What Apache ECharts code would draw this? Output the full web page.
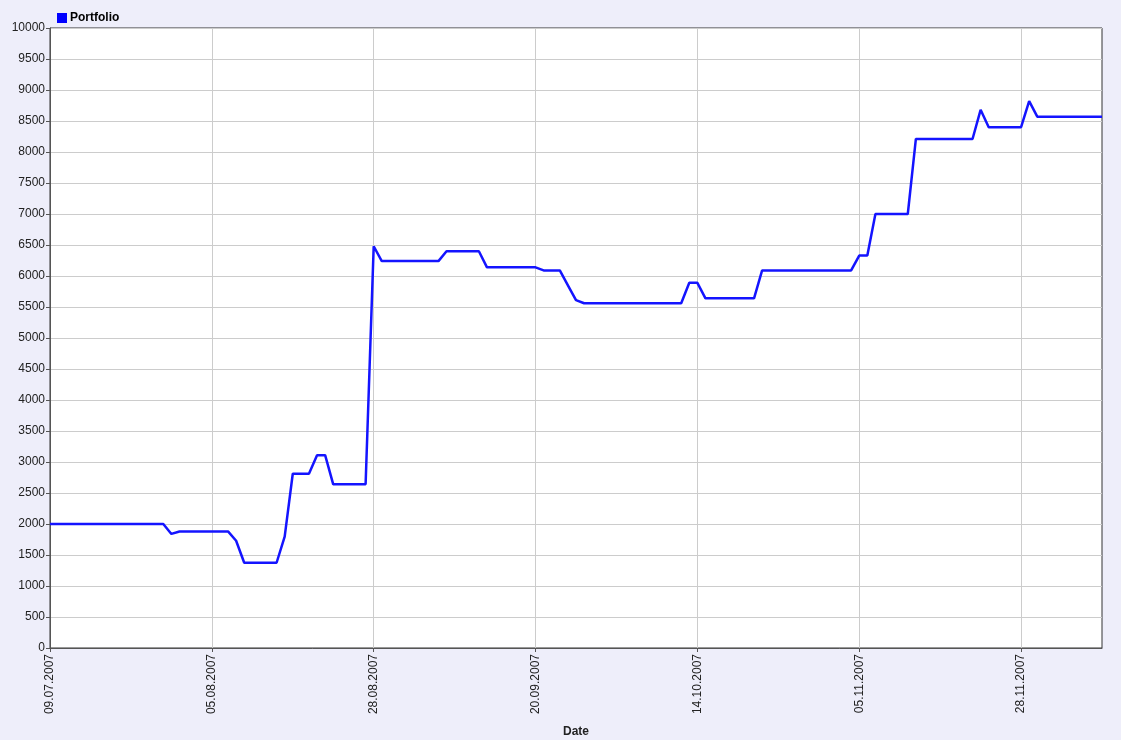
<!DOCTYPE html>
<html>
<head>
<meta charset="utf-8">
<script src="https://cdn.jsdelivr.net/npm/echarts@6/dist/echarts.min.js"></script>
<style>
  html, body { margin: 0; padding: 0; background: #eeeefa; }
  #chart { width: 1121px; height: 740px; }
</style>
</head>
<body>
<div id="chart"></div>
<script>
// tick labels, one every 20 points
var tickLabels = ['09.07.2007', '05.08.2007', '28.08.2007', '20.09.2007', '14.10.2007', '05.11.2007', '28.11.2007'];
var tickStep = 20;

// portfolio value per point (131 points)
var portfolio = [
  2000, 2000, 2000, 2000, 2000, 2000, 2000, 2000, 2000, 2000,
  2000, 2000, 2000, 2000, 2000, 1840, 1880, 1880, 1880, 1880,
  1880, 1880, 1880, 1730, 1375, 1375, 1375, 1375, 1375, 1795,
  2810, 2810, 2810, 3110, 3110, 2640, 2640, 2640, 2640, 2640,
  6480, 6240, 6240, 6240, 6240, 6240, 6240, 6240, 6240, 6400,
  6400, 6400, 6400, 6400, 6140, 6140, 6140, 6140, 6140, 6140,
  6140, 6090, 6090, 6090, 5850, 5610, 5560, 5560, 5560, 5560,
  5560, 5560, 5560, 5560, 5560, 5560, 5560, 5560, 5560, 5890,
  5890, 5640, 5640, 5640, 5640, 5640, 5640, 5640, 6090, 6090,
  6090, 6090, 6090, 6090, 6090, 6090, 6090, 6090, 6090, 6090,
  6330, 6330, 7000, 7000, 7000, 7000, 7000, 8210, 8210, 8210,
  8210, 8210, 8210, 8210, 8210, 8680, 8400, 8400, 8400, 8400,
  8400, 8820, 8570, 8570, 8570, 8570, 8570, 8570, 8570, 8570,
  8570
];

// 类目：只有每20个点有日期标签
var categories = [];
for (var i = 0; i < portfolio.length; i++) {
  categories.push(i % tickStep === 0 ? (tickLabels[i / tickStep] || '') : '');
}

function onTick(idx) { return idx % tickStep === 0; }

var chart = echarts.init(document.getElementById('chart'));
var option = {
  backgroundColor: '#eeeefa',
  animation: false,
  textStyle: { fontFamily: 'Liberation Sans, Arial, sans-serif' },
  legend: {
    left: 52,
    top: 7,
    icon: 'rect',
    itemWidth: 10,
    itemHeight: 10,
    itemGap: 4,
    textStyle: { fontSize: 12, fontWeight: 'bold', color: '#000', padding: [0, 0, 0, -2] },
    data: ['Portfolio']
  },
  grid: {
    left: 50,
    right: 19,
    top: 28,
    bottom: 92,
    outerBoundsMode: 'none',
    containLabel: false,
    show: true,
    backgroundColor: '#ffffff',
    borderColor: '#333',
    borderWidth: 1
  },
  xAxis: {
    type: 'category',
    boundaryGap: false,
    data: categories,
    name: 'Date',
    nameLocation: 'middle',
    nameGap: 78,
    nameTextStyle: { fontSize: 12, fontWeight: 'bold', color: '#222' },
    axisLine: { lineStyle: { color: '#555', width: 1 } },
    axisTick: { interval: onTick, length: 4, lineStyle: { color: '#555' } },
    axisLabel: {
      interval: onTick,
      rotate: 90,
      fontSize: 12,
      color: '#222',
      margin: 6
    },
    splitLine: { show: true, interval: onTick, lineStyle: { color: '#cccccc', width: 1 } }
  },
  yAxis: {
    type: 'value',
    min: 0,
    max: 10000,
    interval: 500,
    axisLine: { show: true, lineStyle: { color: '#555', width: 1 } },
    axisTick: { show: true, length: 4, lineStyle: { color: '#555' } },
    axisLabel: {
      fontSize: 12,
      color: '#222',
      margin: 5,
      formatter: function (v) { return String(v); }
    },
    splitLine: { lineStyle: { color: '#cccccc', width: 1 } }
  },
  series: [
    {
      name: 'Portfolio',
      type: 'line',
      data: portfolio,
      symbol: 'none',
      color: '#0000ff',
      lineStyle: { color: '#1414ff', width: 2.5 }
    }
  ]
};
chart.setOption(option);
</script>
</body>
</html>
